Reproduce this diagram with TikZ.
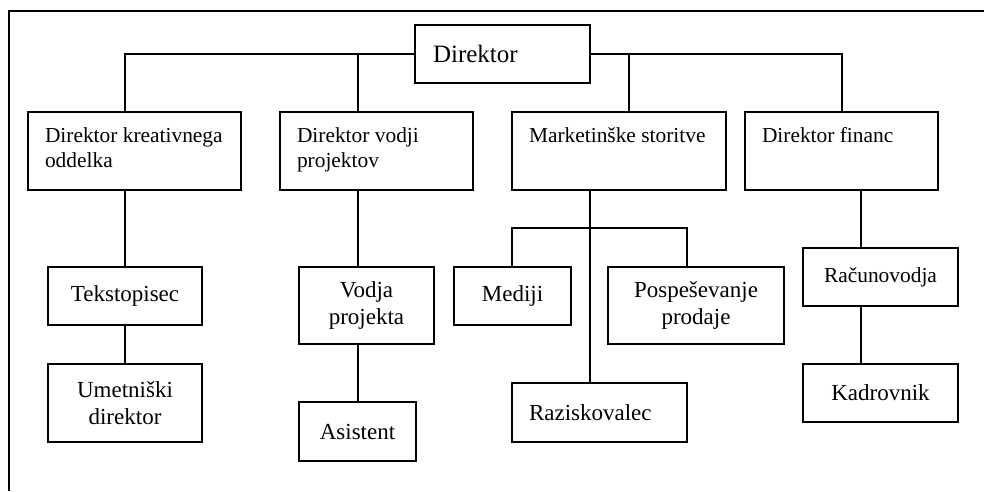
\documentclass[tikz,border=0pt]{standalone}
\usepackage{fontspec}
\setmainfont{Liberation Serif}
\usetikzlibrary{calc}

\tikzset{
  unit/.style={x=1pt,y=-1pt},
  box/.style={draw, line width=1.5pt, inner sep=0pt, align=center},
  link/.style={line width=1.6pt},
  frame/.style={line width=1.6pt},
}
% top-aligned, left-indented text for the department heads
\newcommand{\headtext}[2]{\parbox[c][78pt][t]{#1}{\raggedright\rule{0pt}{30pt}#2}}

\begin{document}
\begin{tikzpicture}[unit]
\useasboundingbox (0,0) rectangle (984,491);

% page frame (only top and left edges visible)
\draw[frame] (9,491) -- (9,11) -- (984,11);

% top
\node[box, minimum width=175pt, minimum height=58pt, inner xsep=18pt,
      text width=139pt, align=left, font=\fontsize{25}{28}\selectfont]
  (dir) at (502.5,54) {Direktor};

% department heads
\node[box, inner xsep=17pt, font=\fontsize{21.4}{25}\selectfont]
  (cre) at (134.5,151) {\headtext{179pt}{Direktor kreativnega\\oddelka}};
\node[box, inner xsep=17pt, font=\fontsize{21.4}{25}\selectfont]
  (proj) at (376.5,151) {\headtext{159pt}{Direktor vodji\\projektov}};
\node[box, inner xsep=17pt, font=\fontsize{21.4}{25}\selectfont]
  (mkt) at (619,151) {\headtext{180pt}{Marketinške storitve}};
\node[box, inner xsep=17pt, font=\fontsize{21.4}{25}\selectfont]
  (fin) at (841.5,151) {\headtext{159pt}{Direktor financ}};

% staff
\begin{scope}[every node/.append style={font=\fontsize{23}{27}\selectfont}]
\node[box, minimum width=154pt, minimum height=58pt] (tek) at (125,296) {Tekstopisec};
\node[box, minimum width=154pt, minimum height=78pt] (ume) at (125,403) {Umetniški\\direktor};
\node[box, minimum width=135pt, minimum height=77pt] (vod) at (366.5,305.5) {Vodja\\projekta};
\node[box, minimum width=117pt, minimum height=59pt] (asi) at (357.5,431.5) {Asistent};
\node[box, minimum width=117pt, minimum height=58pt] (med) at (512.5,296) {Mediji};
\node[box, minimum width=176pt, minimum height=77pt] (pos) at (696,305.5) {Pospeševanje\\prodaje};
\node[box, minimum width=175pt, minimum height=59pt, inner xsep=17pt,
      text width=141pt, align=left] (raz) at (599.5,412.5) {Raziskovalec};
\node[box, minimum width=155pt, minimum height=58pt, font=\fontsize{21.4}{25}\selectfont]
  (rac) at (880.5,277) {Računovodja};
\node[box, minimum width=155pt, minimum height=58pt] (kad) at (880.5,393) {Kadrovnik};
\end{scope}

% junction points on the connectors
\coordinate (jcre) at (125,54);
\coordinate (jproj) at (358,54);
\coordinate (jmkt) at (629,54);
\coordinate (jfin) at (842,54);
\coordinate (jmkt2) at (590,228);
\coordinate (jmed) at (512,228);
\coordinate (jpos) at (687,228);
\coordinate (jacc) at (861,200);

% director to department heads
\draw[link] (dir.west) -- (jcre) -- (jcre |- cre.north);
\draw[link] (jproj) -- (jproj |- proj.north);
\draw[link] (dir.east) -- (jfin) -- (jfin |- fin.north);
\draw[link] (jmkt) -- (jmkt |- mkt.north);

% creative department
\draw[link] (tek.north |- cre.south) -- (tek.north);
\draw[link] (tek.south) -- (ume.north);

% project management
\draw[link] (jproj |- proj.south) -- (jproj |- vod.north);
\draw[link] (jproj |- vod.south) -- (jproj |- asi.north);

% marketing
\draw[link] (jmkt2 |- mkt.south) -- (jmkt2 |- raz.north);
\draw[link] (jmed |- med.north) -- (jmed) -- (jpos) -- (jpos |- pos.north);

% finance
\draw[link] (jacc |- fin.south) -- (jacc |- rac.north);
\draw[link] (jacc |- rac.south) -- (jacc |- kad.north);
\end{tikzpicture}
\end{document}
